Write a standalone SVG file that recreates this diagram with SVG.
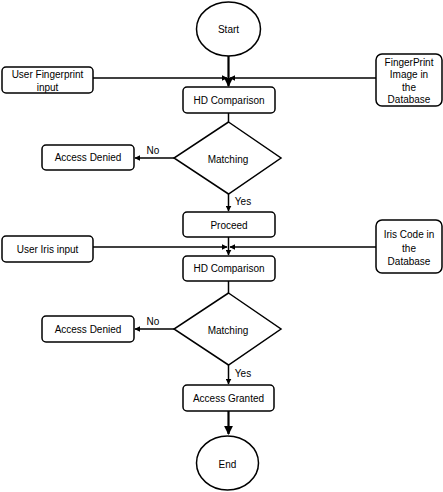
<svg xmlns="http://www.w3.org/2000/svg" width="443" height="492" viewBox="0 0 443 492">
<defs>
<marker id="ah" viewBox="0 0 10 10" refX="9" refY="5" markerWidth="4" markerHeight="4" orient="auto" markerUnits="strokeWidth">
<path d="M0,0 L10,5 L0,10 z" fill="#000"/>
</marker>
<style>
.n{fill:#fff;stroke:#000;stroke-width:1.5}
.t{font-family:"Liberation Sans",Arial,sans-serif;font-size:10px;fill:#000;text-anchor:middle;dominant-baseline:central}
.c{fill:none;stroke:#000;stroke-width:1.5}
.k{fill:none;stroke:#000;stroke-width:2.2}
</style>
</defs>
<rect width="443" height="492" fill="#fff"/>
<g id="connectors">
<path class="k" d="M228.5,56 V86" marker-end="url(#ah)"/>
<path class="c" d="M93,78 H227" marker-end="url(#ah)"/>
<path class="c" d="M376,78 H230" marker-end="url(#ah)"/>
<path class="c" d="M228.5,113 V122"/>
<path class="c" d="M174,158 H135" marker-end="url(#ah)"/>
<path class="c" d="M228.5,194 V211" marker-end="url(#ah)"/>
<path class="c" d="M228.5,237 V255" marker-end="url(#ah)"/>
<path class="c" d="M93,247 H227" marker-end="url(#ah)"/>
<path class="c" d="M376,247 H230" marker-end="url(#ah)"/>
<path class="c" d="M228.5,281 V293"/>
<path class="c" d="M174,329 H135" marker-end="url(#ah)"/>
<path class="c" d="M228.5,365 V384" marker-end="url(#ah)"/>
<path class="k" d="M228.5,411 V434" marker-end="url(#ah)"/>
<text class="t" x="153" y="150">No</text>
<text class="t" x="243" y="201">Yes</text>
<text class="t" x="153" y="321">No</text>
<text class="t" x="243" y="373">Yes</text>
</g>
<g id="start"><ellipse class="n" cx="228.5" cy="29" rx="32" ry="27"/><text class="t" x="228.5" y="29">Start</text></g>
<g id="user-fp"><rect class="n" x="2" y="67" width="91" height="26" rx="4"/><text class="t" x="47.5" y="74">User Fingerprint</text><text class="t" x="47.5" y="87">input</text></g>
<g id="fp-db"><rect class="n" x="376" y="54" width="66" height="52" rx="6"/><text class="t" x="409" y="62">FingerPrint</text><text class="t" x="409" y="74.5">Image in</text><text class="t" x="409" y="87">the</text><text class="t" x="409" y="99">Database</text></g>
<g id="hd1"><rect class="n" x="183" y="87" width="92" height="26" rx="4"/><text class="t" x="229" y="100">HD Comparison</text></g>
<g id="match1"><polygon class="n" points="228.5,122 281,158 228.5,194 174,158"/><text class="t" x="228" y="159">Matching</text></g>
<g id="denied1"><rect class="n" x="42" y="145" width="92" height="25" rx="4"/><text class="t" x="88" y="157.5">Access Denied</text></g>
<g id="proceed"><rect class="n" x="183" y="212" width="92" height="25" rx="4"/><text class="t" x="229" y="225">Proceed</text></g>
<g id="user-iris"><rect class="n" x="2" y="236" width="91" height="26" rx="4"/><text class="t" x="47.5" y="249">User Iris input</text></g>
<g id="iris-db"><rect class="n" x="376" y="220" width="66" height="53" rx="6"/><text class="t" x="409" y="234">Iris Code in</text><text class="t" x="409" y="248">the</text><text class="t" x="409" y="261">Database</text></g>
<g id="hd2"><rect class="n" x="183" y="256" width="92" height="25" rx="4"/><text class="t" x="229" y="268.5">HD Comparison</text></g>
<g id="match2"><polygon class="n" points="228.5,293 281,329 228.5,365 174,329"/><text class="t" x="228" y="330">Matching</text></g>
<g id="denied2"><rect class="n" x="42" y="316" width="92" height="26" rx="4"/><text class="t" x="88" y="329">Access Denied</text></g>
<g id="granted"><rect class="n" x="183" y="385" width="91" height="26" rx="4"/><text class="t" x="228.5" y="398">Access Granted</text></g>
<g id="end"><ellipse class="n" cx="227.5" cy="463" rx="31" ry="27"/><text class="t" x="227.5" y="464">End</text></g>
</svg>
